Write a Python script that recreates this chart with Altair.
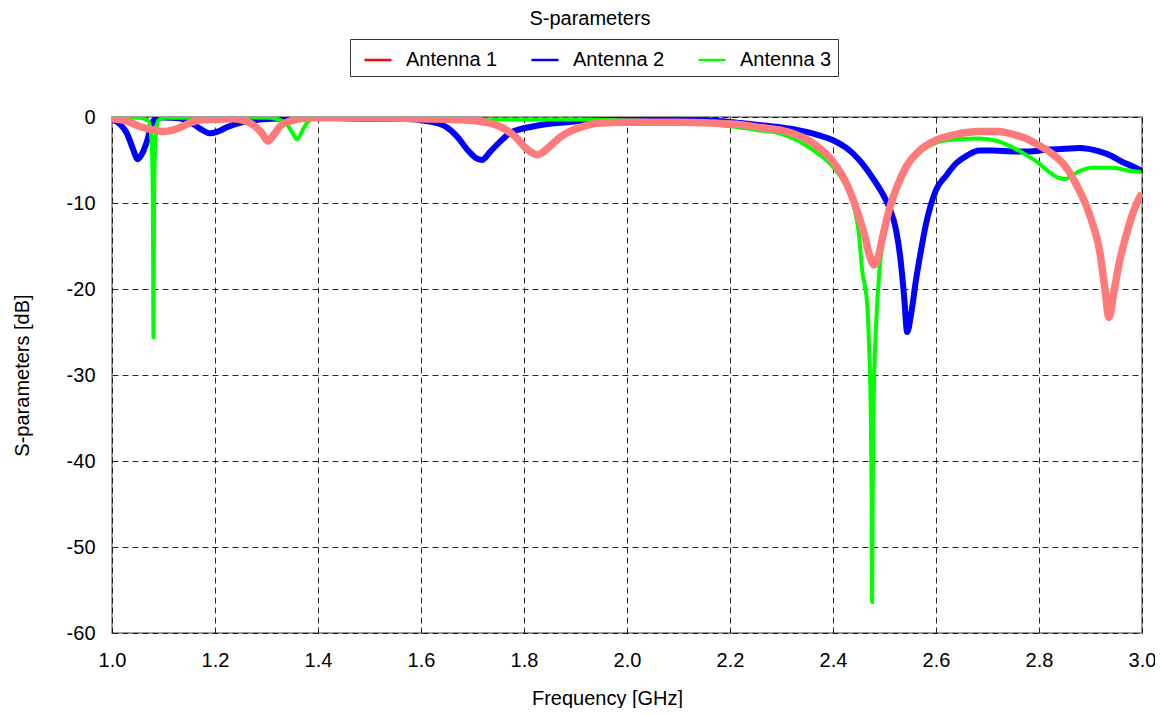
import altair as alt
import pandas as pd

FONT = "Liberation Sans"
FS = 20
names = ["Antenna 1", "Antenna 2", "Antenna 3"]

# Antenna 1
a1_f = [1.0, 1.03, 1.054, 1.08, 1.099, 1.125, 1.151, 1.171, 1.2, 1.235, 1.268, 1.29, 1.303, 1.315, 1.326,
        1.345, 1.365, 1.4, 1.5, 1.6, 1.7, 1.753, 1.785, 1.805, 1.826, 1.845, 1.865, 1.882, 1.915, 1.947,
        2.0, 2.1, 2.205, 2.27, 2.296, 2.33, 2.36, 2.4, 2.426, 2.445, 2.46, 2.472, 2.48, 2.488, 2.497,
        2.509, 2.525, 2.542, 2.57, 2.6, 2.64, 2.684, 2.72, 2.748, 2.775, 2.8, 2.826, 2.852, 2.872,
        2.891, 2.905, 2.917, 2.927, 2.936, 2.945, 2.955, 2.968, 2.98, 2.99, 3.0]
a1_v = [-0.2, -0.5, -1.1, -1.5, -1.7, -1.4, -0.7, -0.35, -0.25, -0.2, -0.7, -1.8, -2.8, -2.0, -1.1,
        -0.5, -0.2, -0.1, -0.1, -0.2, -0.4, -1.1, -2.4, -3.7, -4.4, -3.7, -2.6, -1.9, -1.1, -0.7,
        -0.6, -0.6, -0.8, -1.3, -1.5, -2.1, -3.0, -5.2, -7.7, -10.6, -13.5, -16.3, -17.2, -16.2, -13.8,
        -10.8, -8.0, -5.8, -3.8, -2.7, -2.0, -1.7, -1.7, -2.0, -2.5, -3.3, -4.3, -5.8, -7.8,
        -10.2, -12.6, -15.3, -19.5, -23.3, -20.5, -17.2, -14.0, -11.6, -10.0, -8.9]

# Antenna 2
a2_f = [1.0, 1.015, 1.029, 1.04, 1.05, 1.059, 1.068, 1.078, 1.089, 1.1, 1.13, 1.157, 1.175, 1.19,
        1.205, 1.223, 1.254, 1.312, 1.4, 1.5, 1.559, 1.623, 1.65, 1.669, 1.69, 1.705, 1.718, 1.735,
        1.753, 1.772, 1.817, 1.882, 1.98, 2.05, 2.14, 2.205, 2.25, 2.296, 2.33, 2.36, 2.4, 2.426,
        2.451, 2.476, 2.496, 2.51, 2.523, 2.531, 2.538, 2.544, 2.552, 2.561, 2.57, 2.58, 2.6, 2.62,
        2.639, 2.66, 2.684, 2.71, 2.748, 2.78, 2.814, 2.85, 2.878, 2.917, 2.94, 2.961, 2.98, 3.0]
a2_v = [-0.3, -0.8, -1.9, -3.6, -4.9, -4.2, -2.8, -0.7, -0.05, -0.05, -0.15, -0.8, -1.5, -1.9,
        -1.7, -1.2, -0.6, -0.2, -0.1, -0.2, -0.2, -0.6, -1.2, -2.2, -3.8, -4.7, -5.0, -4.0,
        -2.9, -1.9, -1.1, -0.6, -0.3, -0.3, -0.35, -0.6, -0.9, -1.2, -1.5, -1.9, -2.7, -3.6,
        -5.0, -7.0, -8.9, -10.6, -13.3, -16.5, -20.8, -25.0, -22.8, -19.0, -15.8, -12.6, -8.5, -6.8,
        -5.4, -4.5, -3.9, -3.9, -4.0, -4.0, -3.8, -3.7, -3.6, -4.0, -4.5, -5.2, -5.7, -6.3]

# Antenna 3
a3_f = [1.0, 1.05, 1.07, 1.075, 1.078, 1.0795, 1.0805, 1.0815, 1.083, 1.086, 1.09, 1.1, 1.15, 1.2,
        1.3, 1.325, 1.339, 1.35, 1.359, 1.367, 1.374, 1.39, 1.4, 1.6, 1.72, 1.8, 1.9, 2.0, 2.127,
        2.205, 2.25, 2.296, 2.33, 2.36, 2.4, 2.426, 2.437, 2.45, 2.457, 2.466, 2.47, 2.473, 2.475, 2.476,
        2.477, 2.479, 2.482, 2.486, 2.49, 2.5, 2.509, 2.525, 2.55, 2.6, 2.64, 2.684, 2.72, 2.748,
        2.775, 2.8, 2.82, 2.839, 2.852, 2.864, 2.882, 2.903, 2.942, 2.97, 2.998]
a3_v = [-0.05, -0.05, -0.4, -1.5, -4.5, -11.5, -25.6, -11.5, -4.5, -1.5, -0.4, -0.1, -0.1, -0.05,
        -0.05, -0.3, -0.8, -1.8, -2.6, -1.9, -1.1, -0.15, -0.05, -0.05, -0.3, -0.3, -0.3, -0.4, -0.7,
        -1.1, -1.5, -1.9, -2.7, -3.8, -5.8, -8.1, -9.7, -13.5, -18.0, -21.5, -26.5, -33.0, -44.0, -56.4,
        -44.0, -33.0, -26.5, -21.5, -18.0, -13.0, -10.8, -7.6, -5.3, -3.0, -2.6, -2.5, -2.8, -3.5,
        -4.4, -5.4, -6.4, -7.1, -7.2, -6.8, -6.2, -5.9, -5.9, -6.2, -6.4]

x_ticks = [1.0, 1.2, 1.4, 1.6, 1.8, 2.0, 2.2, 2.4, 2.6, 2.8, 3.0]
y_ticks = [0, -10, -20, -30, -40, -50, -60]

line_colors = ["#ff7a7a", "#0000ff", "#00ff00"]
legend_colors = ["#ff0000", "#0000ff", "#00ff00"]
widths = [7.5, 6, 4]

rows = []
for name, fs, vs in zip(names, [a1_f, a2_f, a3_f], [a1_v, a2_v, a3_v]):
    for f, v in zip(fs, vs):
        rows.append({"series": name, "freq": f, "s": v})
df = pd.DataFrame(rows)

xenc = alt.X("freq:Q", scale=alt.Scale(domain=[1.0, 3.0], nice=False),
             axis=alt.Axis(values=x_ticks, format=".1f", title="Frequency [GHz]",
                           titleX=495, titlePadding=18, labelFlush=False))
yenc = alt.Y("s:Q", scale=alt.Scale(domain=[-60, 0], nice=False),
             axis=alt.Axis(values=y_ticks, labelExpr="toString(datum.value)",
                           title="S-parameters [dB]", titlePadding=34, labelFlush=False))

base = alt.Chart(df)

layers = []
for idx in [1, 2, 0]:
    nm = names[idx]
    layers.append(
        base.transform_filter(alt.datum.series == nm)
        .mark_line(interpolate="monotone", color=line_colors[idx], strokeWidth=widths[idx], clip=True)
        .encode(x=xenc, y=yenc)
    )

legend_layer = (
    base.transform_filter("false")
    .mark_line()
    .encode(
        x=xenc,
        y=yenc,
        color=alt.Color(
            "series:N",
            scale=alt.Scale(domain=names, range=legend_colors),
            legend=alt.Legend(
                title=None, orient="none", legendX=238, legendY=-78, direction="horizontal",
                strokeColor="#333333", padding=6, symbolType="stroke", symbolSize=729,
                symbolStrokeWidth=2.5, symbolOffset=7, labelFontSize=FS, labelFont=FONT,
                labelOffset=13, columnPadding=25, labelColor="black",
            ),
        ),
    )
)

chart = (
    alt.layer(*layers, legend_layer)
    .properties(
        width=1030,
        height=516,
        autosize=alt.AutoSizeParams(type="none"),
        padding={"left": 104, "top": 109, "right": 13, "bottom": 75},
        title=alt.TitleParams("S-parameters", font=FONT, fontSize=FS, fontWeight="normal",
                              anchor="middle", dx=-37, offset=10, color="black"),
    )
    .configure_view(stroke="#808080", strokeWidth=1.5)
    .configure_axis(
        labelFont=FONT, labelFontSize=FS, labelColor="black", titleFont=FONT, titleFontSize=FS,
        titleFontWeight="normal", titleColor="black", grid=True, gridColor="black",
        gridDash=[6, 4], gridWidth=1, gridOpacity=0.85, domain=False, ticks=False,
    )
    .configure_axisX(labelPadding=17)
    .configure_axisY(labelPadding=17)
)

chart.save("out.html", embed_options={"renderer": "svg", "actions": False})
